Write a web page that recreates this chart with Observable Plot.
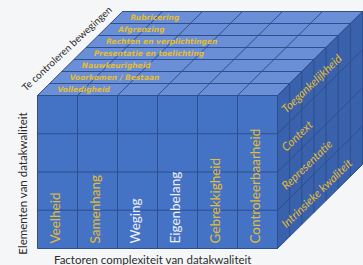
<!DOCTYPE html>
<html>
<head>
<meta charset="utf-8">
<script src="https://cdn.jsdelivr.net/npm/d3@7"></script>
<script src="https://cdn.jsdelivr.net/npm/@observablehq/plot@0.6"></script>
<style>
  html, body { margin: 0; padding: 0; background: #f5f6f8; }
  #chart svg { display: block; }
</style>
</head>
<body>
<div id="chart"></div>
<script>
// ---- data ----
const factors = ["Veelheid", "Samenhang", "Weging", "Eigenbelang", "Gebrekkigheid", "Controleerbaarheid"];
const factorGroup = ["a", "a", "b", "b", "a", "a"];
const elements = ["Intrinsieke kwaliteit", "Representatie", "Context", "Toegankelijkheid"]; // bottom -> top
const movements = ["Volledigheid", "Voorkomen / Bestaan", "Nauwkeurigheid", "Presentatie en toelichting",
                   "Rechten en verplichtingen", "Afgrenzing", "Rubricering"]; // front -> back
const xTitle = "Factoren complexiteit van datakwaliteit";
const yTitle = "Elementen van datakwaliteit";
const zTitle = "Te controleren bewegingen";

// ---- geometry (cube units, oblique projection) ----
const NI = factors.length, NJ = elements.length, NK = movements.length;
const KX = 0.3036, KY = 0.3137;
const P = (i, j, k) => ({x: i + k * KX, y: j + k * KY});

const faces = [
  {face: "front", pts: [P(0,0,0), P(NI,0,0), P(NI,NJ,0), P(0,NJ,0)]},
  {face: "top", pts: [P(0,NJ,0), P(NI,NJ,0), P(NI,NJ,NK), P(0,NJ,NK)]},
  {face: "right", pts: [P(NI,0,0), P(NI,0,NK), P(NI,NJ,NK), P(NI,NJ,0)]}
];
const facePts = f => { const p = faces.find(d => d.face === f).pts; return p.concat([p[0]]); };

const segs = [];
const seg = (a, b) => segs.push({x1: a.x, y1: a.y, x2: b.x, y2: b.y});
for (let i = 0; i <= NI; i++) { seg(P(i,0,0), P(i,NJ,0)); seg(P(i,NJ,0), P(i,NJ,NK)); }
for (let j = 0; j <= NJ; j++) { seg(P(0,j,0), P(NI,j,0)); seg(P(NI,j,0), P(NI,j,NK)); }
for (let k = 0; k <= NK; k++) { seg(P(0,NJ,k), P(NI,NJ,k)); seg(P(NI,0,k), P(NI,NJ,k)); }

const frontLabels = factors.map((t, i) => ({t, g: factorGroup[i], x: i + 0.45, y: 0.13}));
const topLabels = movements.map((t, k) => ({t, ...P(0.35, NJ, k + 0.5)}));
const rightLabels = elements.map((t, j) => ({t, ...P(NI + 0.02, j + 0.45, 0.45)}));

const gold = "#e3bd36";
const font = "Lato, 'Open Sans', sans-serif";
const chart = Plot.plot({
  width: 363, height: 265,
  marginTop: 0, marginRight: 0, marginBottom: 0, marginLeft: 0,
  style: {background: "#f5f6f8", overflow: "visible"},
  x: {type: "linear", domain: [0, NI], range: [37, 277], axis: null},
  y: {type: "linear", domain: [0, NJ], range: [248, 95], axis: null},
  marks: [
    Plot.line(facePts("front"), {x: "x", y: "y", fill: "#4472c4", stroke: "none"}),
    Plot.line(facePts("top"), {x: "x", y: "y", fill: "#6a8fd6", stroke: "none"}),
    Plot.line(facePts("right"), {x: "x", y: "y", fill: "#3a61ab", stroke: "none"}),
    Plot.link(segs, {x1: "x1", y1: "y1", x2: "x2", y2: "y2", stroke: "#2d4f8e", strokeWidth: 1}),
    Plot.text(frontLabels, {x: "x", y: "y", text: "t", rotate: -90, textAnchor: "start",
      fill: d => d.g === "a" ? gold : "#eef0f6", fontSize: 13.5, fontFamily: font}),
    Plot.text(topLabels, {x: "x", y: "y", text: "t", textAnchor: "start", fill: gold,
      fontSize: 7.5, fontStyle: "italic", fontWeight: "bold", fontFamily: "'DejaVu Sans', sans-serif",
      ariaLabel: "toplabels"}),
    Plot.text(rightLabels, {x: "x", y: "y", text: "t", textAnchor: "start", rotate: -44, fill: gold,
      fontSize: 11.5, fontStyle: "italic", fontFamily: font}),
    Plot.text([xTitle], {x: NI / 2 - 0.12, y: -0.3, text: d => d, fill: "#2b2b2b", fontSize: 11.5,
      fontFamily: font}),
    Plot.text([yTitle], {x: -0.35, y: NJ / 2 - 0.3, text: d => d, rotate: -90, fill: "#2b2b2b", fontSize: 11.5,
      fontFamily: font}),
    Plot.text([zTitle], {x: 0.74, y: 5.22, text: d => d, rotate: -43, fill: "#2b2b2b", fontSize: 10,
      fontFamily: font})
  ]
});
d3.select(chart).selectAll("g[aria-label=toplabels] text").attr("letter-spacing", "0.9");
document.getElementById("chart").appendChild(chart);
</script>
</body>
</html>
